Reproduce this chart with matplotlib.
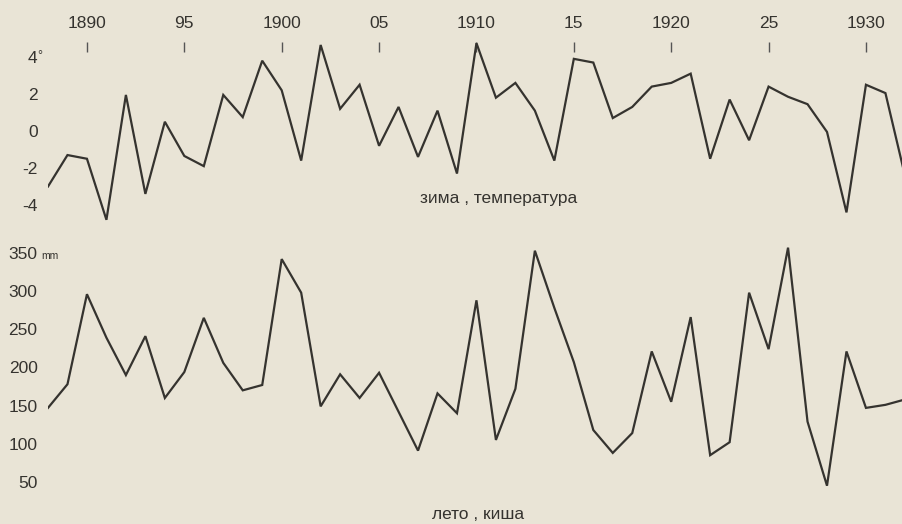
import matplotlib
matplotlib.use("Agg")
import matplotlib.pyplot as plt
import numpy as np

years = list(range(1888, 1933))
winter_temp = [-3.0, -1.3, -1.5, -4.8, 1.95, -3.4, 0.5, -1.35, -1.9, 1.95,
               0.75, 3.8, 2.2, -1.6, 4.65, 1.2, 2.5, -0.8, 1.3, -1.4,
               1.1, -2.3, 4.75, 1.8, 2.6, 1.1, -1.6, 3.9, 3.7, 0.7,
               1.3, 2.4, 2.6, 3.1, -1.5, 1.7, -0.5, 2.4, 1.85, 1.45,
               -0.05, -4.4, 2.5, 2.05, -2.4]
summer_rain = [147, 178, 296, 239, 190, 241, 160, 194, 265, 206,
               170, 177, 342, 298, 149, 191, 160, 193, 142, 91,
               166, 140, 288, 105, 172, 353, 278, 207, 118, 88,
               114, 221, 155, 266, 85, 102, 298, 224, 357, 129,
               45, 221, 147, 151, 158]

xtick_years = [1890, 1895, 1900, 1905, 1910, 1915, 1920, 1925, 1930]
xtick_labels = ["1890", "95", "1900", "05", "1910", "15", "1920", "25", "1930"]
temp_ticks = [4, 2, 0, -2, -4]
temp_labels = ["4", "2", "0", "-2", "-4"]
rain_ticks = [350, 300, 250, 200, 150, 100, 50]
rain_labels = ["350", "300", "250", "200", "150", "100", "50"]

W, H = 903, 524
bg = "#e9e4d6"
ink = "#35332f"
font = "Liberation Sans"
fs = 12.5

fig = plt.figure(figsize=(W / 100, H / 100), dpi=100, facecolor=bg)

x0_px, px_per_year = 48, 19.475
x_right = 1888 + (W - x0_px) / px_per_year

def fpos(top_px, bot_px):
    return [x0_px / W, 1 - bot_px / H, (W - x0_px) / W, (bot_px - top_px) / H]

# top panel: winter temperature
ax1 = fig.add_axes(fpos(42, 225))
ax1.set_facecolor("none")
ax1.plot(years, winter_temp, color=ink, lw=1.6, solid_joinstyle="miter")
ax1.set_xlim(1888, x_right)
ax1.set_ylim((131 - 225) / 18.5, (131 - 42) / 18.5)
ax1.xaxis.tick_top()
ax1.set_xticks(xtick_years, xtick_labels)
ax1.tick_params(axis="x", direction="in", length=7.5, width=1.0, color="#555",
                pad=8, labelsize=fs, labelcolor=ink)
ax1.set_yticks(temp_ticks, temp_labels)
ax1.tick_params(axis="y", length=0, pad=7.5, labelsize=fs, labelcolor=ink)
for s in ax1.spines.values():
    s.set_visible(False)
for lab in ax1.get_xticklabels() + ax1.get_yticklabels():
    lab.set_fontfamily(font)

# bottom panel: summer rain
ax2 = fig.add_axes(fpos(240, 500))
ax2.set_facecolor("none")
ax2.plot(years, summer_rain, color=ink, lw=1.6, solid_joinstyle="miter")
ax2.set_xlim(1888, x_right)
ax2.set_ylim(350 - (500 - 253) / 0.763, 350 + (253 - 240) / 0.763)
ax2.set_xticks([])
ax2.set_yticks(rain_ticks, rain_labels)
ax2.tick_params(axis="y", length=0, pad=7.5, labelsize=fs, labelcolor=ink)
for s in ax2.spines.values():
    s.set_visible(False)
for lab in ax2.get_yticklabels():
    lab.set_fontfamily(font)

# units and titles
fig.text(37.5 / W, 1 - 56 / H, "°", fontsize=9, color=ink, family=font, va="center")
fig.text(41 / W, 1 - 256 / H, "mm", fontsize=7.5, color=ink, family=font, va="center")
fig.text(499 / W, 1 - 198 / H, "зима , температура", fontsize=fs, color=ink,
         family=font, ha="center", va="center")
fig.text(478 / W, 1 - 522 / H, "лето , киша", fontsize=fs, color=ink,
         family=font, ha="center", va="bottom")

fig.savefig("out.png", dpi=100, facecolor=bg)
